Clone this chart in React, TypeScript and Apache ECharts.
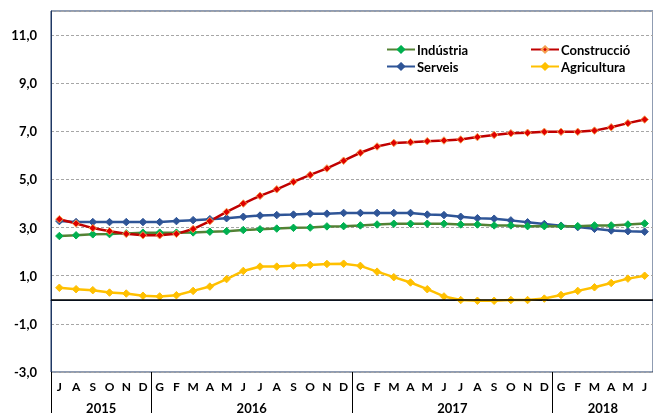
import React, { useEffect, useRef } from "react";
import * as echarts from "echarts";

const months = [
  "J", "A", "S", "O", "N", "D",
  "G", "F", "M", "A", "M", "J", "J", "A", "S", "O", "N", "D",
  "G", "F", "M", "A", "M", "J", "J", "A", "S", "O", "N", "D",
  "G", "F", "M", "A", "M", "J",
];
const yearLabels = ["2015", "2016", "2017", "2018"];
const yearCenters = [3, 12, 24, 33];
const yearBounds = [0, 6, 18, 30];
const yTicks = [-3, -1, 1, 3, 5, 7, 9, 11];

const industria = [
  2.65, 2.68, 2.72, 2.73, 2.76, 2.79, 2.79, 2.79, 2.8, 2.83, 2.85, 2.9, 2.93, 2.96, 2.99, 3.0, 3.05,
  3.06, 3.09, 3.13, 3.16, 3.16, 3.16, 3.16, 3.13, 3.13, 3.09, 3.09, 3.06, 3.06, 3.06, 3.06, 3.09, 3.09, 3.13, 3.17,
];
const serveis = [
  3.27, 3.23, 3.23, 3.23, 3.23, 3.23, 3.23, 3.27, 3.31, 3.35, 3.39, 3.45, 3.5, 3.52, 3.54, 3.58, 3.58,
  3.61, 3.61, 3.61, 3.61, 3.61, 3.54, 3.52, 3.45, 3.39, 3.37, 3.3, 3.22, 3.15, 3.08, 3.02, 2.95, 2.88, 2.85, 2.83,
];
const construccio = [
  3.35, 3.17, 2.98, 2.85, 2.74, 2.68, 2.68, 2.74, 2.94, 3.27,
  3.65, 4.0, 4.32, 4.59, 4.9, 5.19, 5.46, 5.78,
  6.11, 6.37, 6.52, 6.55, 6.59, 6.62, 6.66, 6.76, 6.85, 6.92, 6.94, 6.98, 6.98, 6.98, 7.03, 7.17, 7.34, 7.49,
];
const agricultura = [
  0.5, 0.44, 0.4, 0.3, 0.26, 0.17, 0.14, 0.19, 0.37, 0.55, 0.86, 1.2, 1.38, 1.38, 1.42, 1.45, 1.49,
  1.5, 1.41, 1.17, 0.94, 0.72, 0.44, 0.14, -0.01, -0.04, -0.04, -0.01, -0.01, 0.05, 0.2, 0.37, 0.52, 0.7, 0.88, 1.0,
];

const FONT = "Lato";

export default function App() {
  const ref = useRef<HTMLDivElement>(null);
  useEffect(() => {
    if (!ref.current) return;
    const chart = echarts.init(ref.current, null, { renderer: "svg" });
    const mkSeries = (name: string, data: number[], line: string, fill: string, border: string, extra: any = {}) => ({
      name,
      type: "line",
      data,
      xAxisIndex: 0,
      yAxisIndex: 0,
      symbol: "diamond",
      symbolSize: 7.5,
      lineStyle: { color: line, width: 2.5 },
      itemStyle: { color: fill, borderColor: border, borderWidth: 1 },
      emphasis: { disabled: true },
      ...extra,
    });
    const legendCommon = {
      orient: "vertical",
      top: 38,
      itemWidth: 28,
      itemHeight: 8,
      itemGap: 4,
      selectedMode: false,
      textStyle: { fontFamily: FONT, fontWeight: "bold", fontSize: 13, color: "#000", padding: [0, 0, 0, -3] },
    };
    chart.setOption({
      animation: false,
      textStyle: { fontFamily: FONT },
      grid: { left: 51, top: 11, width: 605, height: 362, show: true, borderColor: "#1F3864", borderWidth: 1 },
      legend: [
        { ...legendCommon, data: ["Indústria", "Serveis"], left: 381 },
        { ...legendCommon, data: ["Construcció", "Agricultura"], left: 525 },
      ],
      xAxis: [
        {
          type: "category",
          data: months,
          boundaryGap: true,
          position: "bottom",
          axisLine: { show: true, lineStyle: { color: "#1F3864", width: 1 } },
          axisTick: { show: false },
          axisLabel: { interval: 0, margin: 8, fontFamily: FONT, fontWeight: "bold", fontSize: 12, color: "#000" },
          splitLine: { show: false },
        },
        {
          type: "value",
          min: 0,
          max: 36,
          position: "bottom",
          axisLine: { show: false },
          splitLine: { show: false },
          axisTick: {
            show: true,
            customValues: yearBounds,
            length: 41,
            lineStyle: { color: "#000", width: 1 },
          },
          axisLabel: {
            customValues: yearCenters,
            margin: 29,
            fontFamily: FONT,
            fontWeight: "bold",
            fontSize: 13,
            color: "#000",
            formatter: (v: number) => yearLabels[yearCenters.indexOf(v)] ?? "",
          },
        },
      ],
      yAxis: {
        type: "value",
        min: -3,
        max: 12,
        interval: 2,
        axisLine: { show: true, lineStyle: { color: "#1F3864", width: 1 } },
        axisTick: { show: false },
        axisLabel: {
          margin: 14,
          fontFamily: FONT,
          fontWeight: "bold",
          fontSize: 13,
          color: "#000",
          formatter: (v: number) => (yTicks.indexOf(v) >= 0 ? v.toFixed(1).replace(".", ",") : ""),
        },
        splitLine: { show: true, lineStyle: { color: "#A6A6A6", type: [3, 2], width: 1 } },
      },
      series: [
        mkSeries("Serveis", serveis, "#2F5597", "#2F5597", "#2F5597", {
          markLine: {
            silent: true,
            symbol: "none",
            label: { show: false },
            lineStyle: { color: "#000", type: "solid", width: 1.5 },
            data: [{ yAxis: 0 }],
          },
        }),
        mkSeries("Indústria", industria, "#548235", "#00B050", "#00B050"),
        mkSeries("Construcció", construccio, "#C00000", "#E00000", "#F4A050"),
        mkSeries("Agricultura", agricultura, "#FFC000", "#FFC000", "#FFC000"),
      ],
    });
    return () => chart.dispose();
  }, []);
  return <div ref={ref} style={{ position: "fixed", left: 0, top: 0, width: 653, height: 414 }} />;
}
